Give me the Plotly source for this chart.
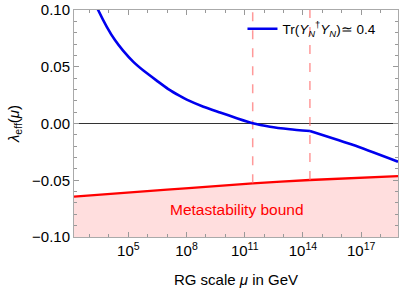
import numpy as np
import plotly.graph_objects as go

# Data (log10 of RG scale in GeV)
blue_log_mu = [3.0, 3.45, 3.89, 4.31, 4.74, 5.26, 5.86, 6.46, 7.06, 7.63, 8.01, 8.87, 9.73, 10.59, 11.41, 12.30, 13.33, 14.36, 16.6, 18.9]
blue_lambda = [0.117, 0.0998, 0.0852, 0.0735, 0.0640, 0.0543, 0.0455, 0.0378, 0.0303, 0.0245, 0.0210, 0.0148, 0.0097, 0.0047, 0.0002, -0.0028, -0.0050, -0.0066, -0.0190, -0.0337]
kink_log_mu = 14.36

red_log_mu = [2.2, 7.0, 11.41, 14.36, 18.9]
red_lambda = [-0.0645, -0.0583, -0.0527, -0.0498, -0.0463]

threshold_log_mu = [11.41, 14.36]

x_tick_exps = [5, 8, 11, 14, 17]
y_ticks = [-0.10, -0.05, 0.00, 0.05, 0.10]

FONT = "Liberation Sans, Arial, Helvetica, sans-serif"

blue_x = [10 ** v for v in blue_log_mu]
red_x = [10 ** v for v in red_log_mu]
k = blue_log_mu.index(kink_log_mu)

fig = go.Figure()

# baseline for fill
fig.add_trace(go.Scatter(x=red_x, y=[-0.1] * len(red_x), mode="lines",
                         line=dict(width=0, color="rgba(0,0,0,0)"),
                         showlegend=False, hoverinfo="skip"))
fig.add_trace(go.Scatter(x=red_x, y=red_lambda, mode="lines", fill="tonexty",
                         fillcolor="rgba(255,0,0,0.13)", line_shape="spline",
                         line=dict(color="#ff0000", width=2.3),
                         showlegend=False))

for t in threshold_log_mu:
    y0 = float(np.interp(t, red_log_mu, red_lambda))
    fig.add_trace(go.Scatter(x=[10 ** t, 10 ** t], y=[y0, 0.1], mode="lines",
                             line=dict(color="rgba(255,110,110,0.7)", width=1.5, dash="dash"),
                             showlegend=False, hoverinfo="skip"))

legend_name = "Tr(<i>Y</i><sub><i>N</i></sub><sup>†</sup><i>Y</i><sub><i>N</i></sub>)≃ 0.4"
fig.add_trace(go.Scatter(x=blue_x[:k + 1], y=blue_lambda[:k + 1], mode="lines",
                         line=dict(color="#0000ee", width=2.6, shape="spline", smoothing=0.5),
                         name=legend_name, legendgroup="b"))
fig.add_trace(go.Scatter(x=blue_x[k:], y=blue_lambda[k:], mode="lines",
                         line=dict(color="#0000ee", width=2.6, shape="spline", smoothing=0.5),
                         showlegend=False, legendgroup="b"))

fig.add_annotation(x=10.6, y=-0.0762, xref="x", yref="y", text="Metastability bound",
                   showarrow=False, font=dict(color="#ff0000", size=15.5, family=FONT))

fig.update_layout(
    width=399, height=292,
    margin=dict(l=74, r=1, t=10, b=55, autoexpand=False),
    paper_bgcolor="white", plot_bgcolor="white",
    font=dict(family=FONT, size=15, color="black"),
    legend=dict(x=0.52, y=0.985, xanchor="left", yanchor="top",
                bgcolor="rgba(0,0,0,0)", font=dict(size=13.5, family=FONT)),
)

fig.update_xaxes(
    type="log", range=[2.2, 18.9], automargin=False,
    tickvals=[10 ** e for e in x_tick_exps],
    ticktext=[f"10<sup>{e}</sup>" for e in x_tick_exps],
    ticks="inside", ticklen=5, tickcolor="#999", showline=True, linecolor="#aaa",
    linewidth=1, mirror="ticks", showgrid=False, zeroline=False,
    minor=dict(tickvals=[10 ** e for e in range(3, 19)], ticks="inside", ticklen=3, tickcolor="#999"),
    title=dict(text="RG scale <i>μ</i> in GeV", standoff=16, font=dict(size=15)),
)
fig.update_yaxes(
    range=[-0.1, 0.1], automargin=False,
    tickvals=y_ticks, ticktext=[f"{v:.2f}".replace("-", "−") for v in y_ticks],
    ticks="inside", ticklen=5, tickcolor="#999", showline=True, linecolor="#aaa",
    linewidth=1, mirror="ticks", showgrid=False,
    zeroline=True, zerolinecolor="#333", zerolinewidth=1,
    minor=dict(dtick=0.01, ticks="inside", ticklen=3, tickcolor="#999"),
    title=dict(text="<i>λ</i><sub>eff</sub>(<i>μ</i>)", standoff=8, font=dict(size=15)),
)

fig.write_html("out.html", config={"displayModeBar": False},
               post_script="document.body.style.margin='0px';")
